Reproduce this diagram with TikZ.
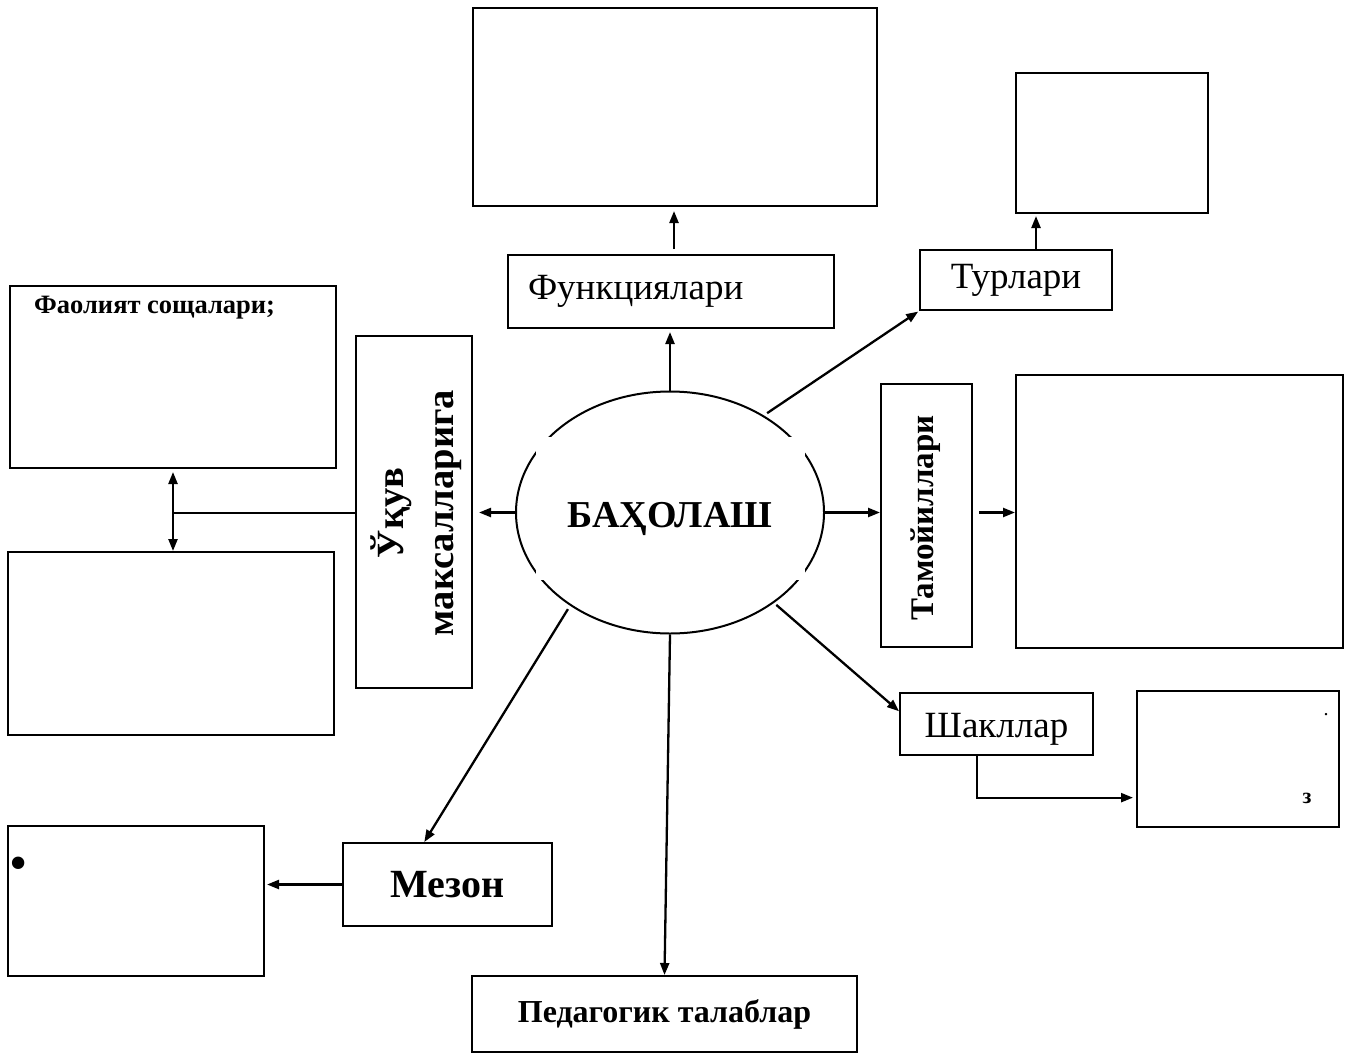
\documentclass[tikz,border=0pt]{standalone}
\usepackage{fontspec}
\setmainfont{Liberation Serif}
\usetikzlibrary{arrows.meta,calc,shapes.geometric}
\begin{document}
\begin{tikzpicture}[x=1pt,y=-1pt,
  box/.style={draw, line width=2pt, rectangle, inner sep=0pt},
  conn/.style={line width=2.3pt, -{Triangle[length=12pt,width=9pt]}},
  dconn/.style={line width=2.3pt, {Triangle[length=12pt,width=9pt]}-{Triangle[length=12pt,width=9pt]}},
  plain/.style={line width=2pt},
  rlbl/.style={font=\fontsize{37pt}{44pt}\selectfont},
]
\useasboundingbox (0,0) rectangle (1351,1057);
\fill[white] (0,0) rectangle (1351,1057);

% top
\node[box, minimum width=404pt, minimum height=198pt] (topbox) at (675,107) {};
\node[box, rlbl, minimum width=326pt, minimum height=73pt, inner xsep=20pt, text width=286pt, align=left] (func) at (671,291.5) {Функциялари};
\node[box, rlbl, minimum width=192pt, minimum height=60pt, text width=192pt, align=center] (turl) at (1016,280) {Турлари\hspace*{16pt}};
\node[box, minimum width=192pt, minimum height=140pt] (trbox) at (1112,143) {};

% centre
\node[draw, ellipse, line width=2pt, minimum width=308pt, minimum height=242pt, inner sep=0pt] (ell) at (670,512.5) {};
\fill[white] (536,437) rectangle (805,580);
\node[font=\bfseries\fontsize{38pt}{45pt}\selectfont, inner sep=0pt] (bah) at (670,519) {БАҲОЛАШ};

% left
\node[box, minimum width=116pt, minimum height=352pt] (ukuv) at (414,512) {};
\node[rotate=90, align=center, inner sep=0pt, font=\bfseries\fontsize{38.5pt}{50pt}\selectfont] (ukuvt) at (416,513) {Ўқув\\максалларига};
\node[box, minimum width=326pt, minimum height=182pt] (fbox) at (173,377) {};
\node[anchor=west, inner sep=0pt, font=\bfseries\fontsize{26.5pt}{31pt}\selectfont] (ftext) at (34,308) {Фаолият сощалари;};
\node[box, minimum width=326pt, minimum height=183pt] (blbox) at (171,643.5) {};
\coordinate (junc) at (fbox.south |- ell.west);

% right
\node[box, minimum width=91pt, minimum height=263pt] (tam) at (926.5,515.5) {};
\node[rotate=90, inner sep=0pt, font=\bfseries\fontsize{33pt}{40pt}\selectfont] (tamt) at (926,518) {Тамойиллари};
\node[box, minimum width=327pt, minimum height=273pt] (rbig) at (1179.5,511.5) {};
\node[box, rlbl, minimum width=193pt, minimum height=62pt, text height=34.5pt] (shak) at (996.5,724) {Шакллар};
\node[box, minimum width=202pt, minimum height=136pt] (rbbox) at (1238,759) {};
\node[inner sep=0pt, font=\fontsize{20pt}{24pt}\selectfont] (dot) at (1326,715) {.};
\node[inner sep=0pt, font=\bfseries\fontsize{22pt}{26pt}\selectfont] (zz) at (1307,798) {з};

% bottom
\node[box, minimum width=209pt, minimum height=83pt, font=\bfseries\fontsize{40pt}{48pt}\selectfont] (mezon) at (447.5,884.5) {Мезон};
\node[box, minimum width=256pt, minimum height=150pt] (lbbox) at (136,901) {};
\node[inner sep=0pt, font=\fontsize{52pt}{60pt}\selectfont] (bullet) at (19,869) {•};
\node[box, minimum width=385pt, minimum height=76pt, font=\bfseries\fontsize{32pt}{38pt}\selectfont] (ped) at (664.5,1014) {Педагогик талаблар};

% connectors
\draw[conn, shorten >=3pt] (ell.north) -- (ell.north |- func.south);
\draw[conn, shorten <=5pt, shorten >=4pt] ([xshift=3pt]func.north) -- ([xshift=3pt]func.north |- topbox.south);
\draw[conn, shorten <=4pt, shorten >=1pt] (ell.46) -- (turl.south west);
\draw[conn, shorten >=2pt] ([xshift=20pt]turl.north) -- ([xshift=20pt]turl.north |- trbox.south);
\draw[conn] (ell.east) -- (ell.east -| tam.west);
\draw[conn, shorten <=6pt] (tam.east |- ell.east) -- (rbig.west |- ell.east);
\draw[conn, shorten >=6pt] (ell.west) -- (ell.west -| ukuv.east);
\draw[plain] (ukuv.west |- ell.west) -- (junc);
\draw[dconn, shorten <=3pt] (fbox.south) -- (fbox.south |- blbox.north);
\draw[conn, shorten <=4pt] (ell.223) -- ($(mezon.north west)!0.39!(mezon.north east)$);
\draw[conn] (ell.south) -- (ped.north);
\draw[conn, shorten <=3pt] (ell.-41) -- ($(shak.north west)!0.3!(shak.south west)$);
\draw[conn, shorten >=3pt] ([xshift=-19.5pt]shak.south) |- ($(rbbox.south west)!0.22!(rbbox.north west)$);
\draw[conn, shorten >=2pt] (mezon.west) -- (mezon.west -| lbbox.east);
\end{tikzpicture}
\end{document}
